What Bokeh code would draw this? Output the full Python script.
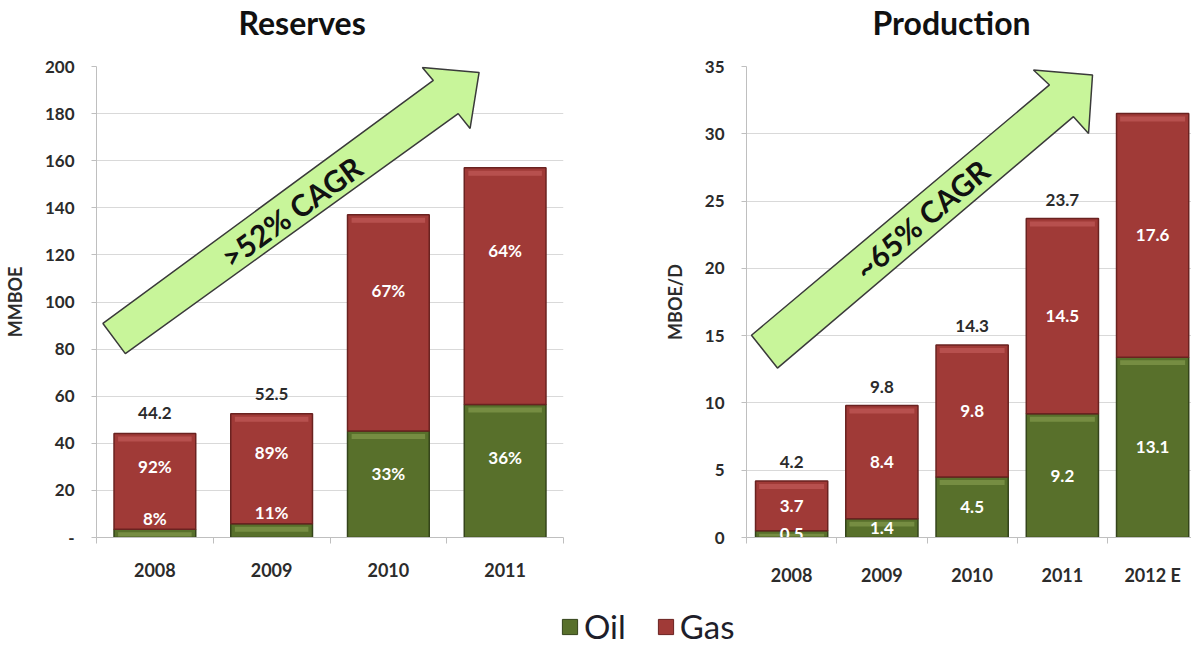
from bokeh.plotting import figure
from bokeh.models import (ColumnDataSource, Range1d, FixedTicker, Title, Legend, LegendItem)
from bokeh.layouts import column, row
from bokeh.embed import file_html
from bokeh.resources import INLINE
from bokeh.core.properties import value

# ---------------- data ----------------
res_years = ["2008", "2009", "2010", "2011"]
res_oil = [3.5, 5.8, 45.2, 56.5]
res_gas = [40.7, 46.7, 91.8, 100.5]
res_oil_pct = ["8%", "11%", "33%", "36%"]
res_gas_pct = ["92%", "89%", "67%", "64%"]
res_total_text = ["44.2", "52.5", "", ""]
res_ticks = [0, 20, 40, 60, 80, 100, 120, 140, 160, 180, 200]

prod_years = ["2008", "2009", "2010", "2011", "2012 E"]
prod_oil = [0.5, 1.4, 4.5, 9.2, 13.4]
prod_gas = [3.7, 8.4, 9.8, 14.5, 18.1]
prod_oil_text = ["0.5", "1.4", "4.5", "9.2", "13.1"]
prod_gas_text = ["3.7", "8.4", "9.8", "14.5", "17.6"]
prod_total_text = ["4.2", "9.8", "14.3", "23.7", ""]
prod_ticks = [0, 5, 10, 15, 20, 25, 30, 35]

res_cagr = ">52% CAGR"
prod_cagr = "~65% CAGR"

# ---------------- style ----------------
GREEN = "#58702b"
GREEN_D = "#34441a"
GREEN_L = "#7b9247"
RED = "#a03a37"
RED_D = "#6a2220"
RED_L = "#bb5552"
ARROW = "#c8f59a"
FONT_S = "Lato"
FONT = value(FONT_S)
TXT = "#2b2b2b"
AXIS_C = "#bfbfbf"
GRID_C = "#d9d9d9"
HEAD_H = 46


def make_header(width, title, left):
    h = figure(width=width, height=HEAD_H, toolbar_location=None, output_backend="svg",
               min_border=0, x_axis_location=None, y_axis_location=None)
    h.outline_line_color = None
    h.grid.grid_line_color = None
    h.title = Title(text=title, align="left", offset=left, standoff=0,
                    text_font=FONT_S, text_font_style="bold", text_font_size="32px",
                    text_color="#111111")
    return h


def make_fig(width, height, mb_left, mb_right, mb_top, mb_bottom, ncat, xend, ymax,
             ticks, years, ylabel, lab_standoff):
    p = figure(width=width, height=height, x_range=Range1d(-0.5, xend), y_range=Range1d(0, ymax),
               toolbar_location=None, output_backend="svg",
               min_border_left=mb_left, min_border_right=mb_right,
               min_border_top=mb_top, min_border_bottom=mb_bottom)
    p.outline_line_color = None
    p.xgrid.grid_line_color = None
    p.ygrid.grid_line_color = GRID_C
    p.ygrid.grid_line_width = 1
    # x axis
    xa = p.xaxis[0]
    xa.ticker = FixedTicker(ticks=list(range(ncat)),
                            minor_ticks=[i - 0.5 for i in range(ncat + 1)])
    xa.major_label_overrides = {i: y for i, y in enumerate(years)}
    xa.major_tick_out = 0
    xa.major_tick_in = 0
    xa.minor_tick_out = 6
    xa.minor_tick_in = 0
    xa.minor_tick_line_color = AXIS_C
    xa.axis_line_color = AXIS_C
    xa.major_label_standoff = lab_standoff
    xa.major_label_text_font = FONT_S
    xa.major_label_text_font_style = "bold"
    xa.major_label_text_font_size = "18px"
    xa.major_label_text_color = TXT
    # y axis
    ya = p.yaxis[0]
    ya.ticker = FixedTicker(ticks=ticks, minor_ticks=[])
    ya.axis_line_color = AXIS_C
    ya.major_tick_line_color = AXIS_C
    ya.major_tick_out = 5
    ya.major_tick_in = 0
    ya.major_label_standoff = 17
    ya.major_label_text_font = FONT_S
    ya.major_label_text_font_style = "bold"
    ya.major_label_text_font_size = "17px"
    ya.major_label_text_color = TXT
    ya.axis_label = ylabel
    ya.axis_label_standoff = 16
    ya.axis_label_text_font = FONT_S
    ya.axis_label_text_font_style = "bold"
    ya.axis_label_text_font_size = "18px"
    ya.axis_label_text_color = TXT
    return p


def draw_stack(p, oil, gas, width, frame_h, ymax):
    u = ymax / frame_h  # data units per pixel
    xs = list(range(len(oil)))
    tops = [o + g for o, g in zip(oil, gas)]
    src = ColumnDataSource(dict(x=xs, oil=oil, top=tops))
    p.vbar(x="x", bottom=0, top="oil", width=width, source=src,
           fill_color=GREEN, line_color=GREEN_D, line_width=1.5)
    p.vbar(x="x", bottom="oil", top="top", width=width, source=src,
           fill_color=RED, line_color=RED_D, line_width=1.5)
    # bevel highlight strips just below each segment's top
    for tops_, bases, col in ((oil, [0] * len(oil), GREEN_L), (tops, oil, RED_L)):
        hb, ht = [], []
        for t, b in zip(tops_, bases):
            hi = t - 3 * u
            lo = max(t - 8 * u, b + 1 * u)
            hb.append(lo)
            ht.append(max(hi, lo))
        p.vbar(x=xs, bottom=hb, top=ht, width=width * 0.9, fill_color=col,
               fill_alpha=0.85, line_color=None)
    return tops


def draw_arrow(p, xs, ys):
    p.patch(xs, ys, fill_color=ARROW, line_color="#3a3a3a", line_width=1.5)


H = 600 - HEAD_H

# ---------------- Reserves ----------------
h1 = make_header(600, "Reserves", 238)
p1 = make_fig(600, H, 93, 37, 66 - HEAD_H, 63, 4, 3.5, 200, res_ticks, res_years, "MMBOE", 19)
p1.yaxis[0].major_label_overrides = {0: "-"}
res_tot = draw_stack(p1, res_oil, res_gas, 0.70, 471, 200)

draw_arrow(p1,
           [-0.445, 2.385, 2.291, 2.777, 2.700, 2.598, -0.253],
           [90.9, 194.1, 199.6, 197.5, 173.7, 180.0, 78.1])
p1.text(x=[1.168], y=[138.4], text=[res_cagr], angle=0.627, text_align="center",
        text_baseline="middle", text_font=FONT, text_font_style="bold",
        text_font_size="30px", text_color="#111111")

res_lab = ColumnDataSource(dict(
    x=list(range(4)),
    gy=[o + 0.65 * g for o, g in zip(res_oil, res_gas)],
    oy=[o * 0.6 if o > 20 else o + 4.7 for o in res_oil],
    gt=res_gas_pct, ot=res_oil_pct, ty=res_tot, tt=res_total_text))
p1.text(x="x", y="gy", text="gt", source=res_lab, text_align="center", text_baseline="middle",
        text_color="white", text_font=FONT, text_font_style="bold", text_font_size="17px")
p1.text(x="x", y="oy", text="ot", source=res_lab, text_align="center", text_baseline="middle",
        text_color="white", text_font=FONT, text_font_style="bold", text_font_size="17px")
p1.text(x="x", y="ty", text="tt", source=res_lab, y_offset=-20, text_align="center",
        text_baseline="middle", text_color=TXT, text_font=FONT, text_font_style="bold",
        text_font_size="17px")

# ---------------- Production ----------------
h2 = make_header(591, "Production", 272)
p2 = make_fig(591, H, 146, 0, 64 - HEAD_H, 62, 5, -0.5 + 445 / 90.25, 35, prod_ticks,
              prod_years, "MBOE/D", 20)
prod_tot = draw_stack(p2, prod_oil, prod_gas, 0.80, 474, 35)

draw_arrow(p2,
           [-0.445, 2.857, 2.680, 3.334, 3.290, 3.123, -0.157],
           [15.03, 33.63, 34.74, 34.37, 30.02, 31.27, 12.59])
p2.text(x=[1.439], y=[23.67], text=[prod_cagr], angle=0.705, text_align="center",
        text_baseline="middle", text_font=FONT, text_font_style="bold",
        text_font_size="30px", text_color="#111111")

prod_lab = ColumnDataSource(dict(
    x=list(range(5)),
    gy=[o + g / 2 for o, g in zip(prod_oil, prod_gas)],
    oy=[o / 2 for o in prod_oil],
    gt=prod_gas_text, ot=prod_oil_text, ty=prod_tot, tt=prod_total_text))
p2.text(x="x", y="gy", text="gt", source=prod_lab, text_align="center", text_baseline="middle",
        text_color="white", text_font=FONT, text_font_style="bold", text_font_size="17px")
p2.text(x="x", y="oy", text="ot", source=prod_lab, text_align="center", text_baseline="middle",
        text_color="white", text_font=FONT, text_font_style="bold", text_font_size="17px")
p2.text(x="x", y="ty", text="tt", source=prod_lab, y_offset=-19, text_align="center",
        text_baseline="middle", text_color=TXT, text_font=FONT, text_font_style="bold",
        text_font_size="17px")

# ---------------- Legend strip ----------------
pl = figure(width=1191, height=46, x_range=Range1d(0, 1), y_range=Range1d(0, 1),
            toolbar_location=None, output_backend="svg", min_border=0,
            x_axis_location=None, y_axis_location=None)
pl.outline_line_color = None
pl.grid.grid_line_color = None
# legend proxies (no visible bar: NaN height)
nan = float("nan")
r_oil = pl.vbar(x=[0.5], bottom=[nan], top=[nan], width=0.1, fill_color=GREEN, line_color=GREEN_D)
r_gas = pl.vbar(x=[0.5], bottom=[nan], top=[nan], width=0.1, fill_color=RED, line_color=RED_D)
leg = Legend(items=[LegendItem(label="Oil", renderers=[r_oil]),
                    LegendItem(label="Gas", renderers=[r_gas])],
             orientation="horizontal", location=(560, 0), padding=0, margin=0,
             spacing=30, label_standoff=5, glyph_width=19, glyph_height=19,
             label_text_font=FONT_S, label_text_font_size="33px", label_text_color="#1e1e2a",
             border_line_color=None, background_fill_alpha=0)
pl.add_layout(leg)

layout = column(row(h1, h2), row(p1, p2), pl)
open("out.html", "w").write(file_html(layout, INLINE))
